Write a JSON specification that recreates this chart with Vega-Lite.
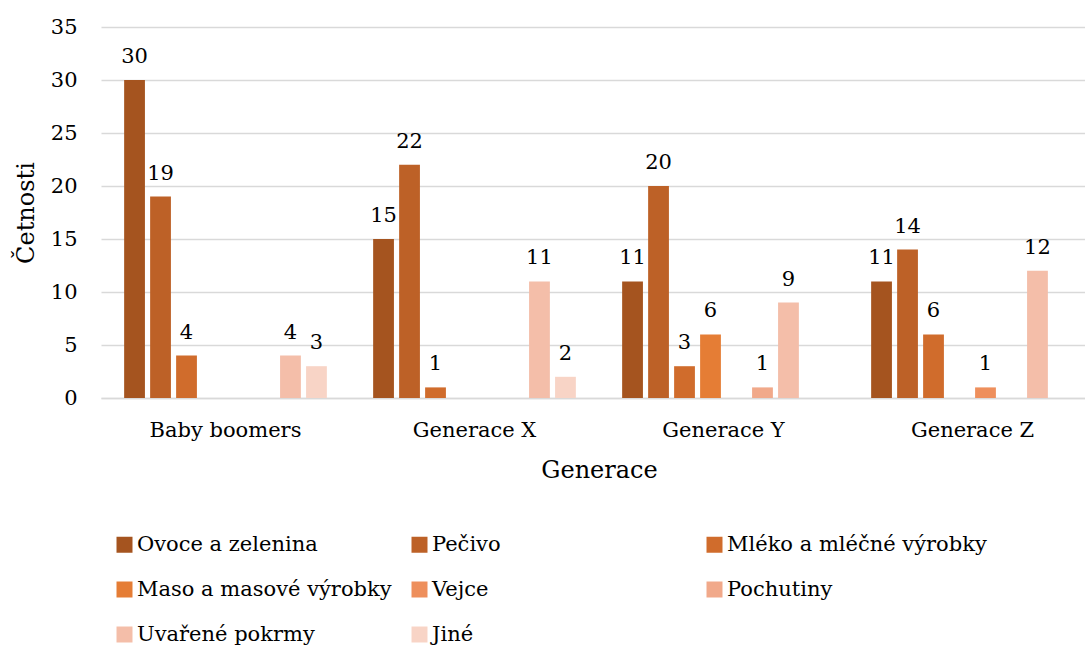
{
  "$schema": "https://vega.github.io/schema/vega-lite/v6.json",
  "width": 984,
  "height": 371,
  "autosize": {"type": "none"},
  "padding": {"left": 101, "top": 27, "right": 0, "bottom": 248},
  "background": "white",
  "config": {
    "font": "DejaVu Serif",
    "view": {"stroke": null}
  },
  "data": {"values": [
    {"gen": "Baby boomers", "cat": "Ovoce a zelenina", "value": 30},
    {"gen": "Baby boomers", "cat": "Pečivo", "value": 19},
    {"gen": "Baby boomers", "cat": "Mléko a mléčné výrobky", "value": 4},
    {"gen": "Baby boomers", "cat": "Uvařené pokrmy", "value": 4},
    {"gen": "Baby boomers", "cat": "Jiné", "value": 3},
    {"gen": "Generace X", "cat": "Ovoce a zelenina", "value": 15},
    {"gen": "Generace X", "cat": "Pečivo", "value": 22},
    {"gen": "Generace X", "cat": "Mléko a mléčné výrobky", "value": 1},
    {"gen": "Generace X", "cat": "Uvařené pokrmy", "value": 11},
    {"gen": "Generace X", "cat": "Jiné", "value": 2},
    {"gen": "Generace Y", "cat": "Ovoce a zelenina", "value": 11},
    {"gen": "Generace Y", "cat": "Pečivo", "value": 20},
    {"gen": "Generace Y", "cat": "Mléko a mléčné výrobky", "value": 3},
    {"gen": "Generace Y", "cat": "Maso a masové výrobky", "value": 6},
    {"gen": "Generace Y", "cat": "Pochutiny", "value": 1},
    {"gen": "Generace Y", "cat": "Uvařené pokrmy", "value": 9},
    {"gen": "Generace Z", "cat": "Ovoce a zelenina", "value": 11},
    {"gen": "Generace Z", "cat": "Pečivo", "value": 14},
    {"gen": "Generace Z", "cat": "Mléko a mléčné výrobky", "value": 6},
    {"gen": "Generace Z", "cat": "Vejce", "value": 1},
    {"gen": "Generace Z", "cat": "Uvařené pokrmy", "value": 12}
  ]},
  "encoding": {
    "x": {
      "field": "gen", "type": "nominal",
      "sort": ["Baby boomers", "Generace X", "Generace Y", "Generace Z"],
      "scale": {"range": [0, 996], "paddingInner": 0.165, "paddingOuter": 0.0825},
      "axis": {
        "labelAngle": 0, "labelFontSize": 21, "labelColor": "#000000", "labelPadding": 21,
        "ticks": false, "domainColor": "#D9D9D9", "domainWidth": 1.5,
        "title": "Generace", "titleFontSize": 24, "titleFontWeight": "normal", "titleColor": "#000000", "titlePadding": 18
      }
    },
    "xOffset": {
      "field": "cat", "type": "nominal",
      "scale": {"domain": ["Ovoce a zelenina", "Pečivo", "Mléko a mléčné výrobky", "Maso a masové výrobky", "Vejce", "Pochutiny", "Uvařené pokrmy", "Jiné"], "paddingInner": 0.2, "paddingOuter": 0.1}
    },
    "y": {
      "field": "value", "type": "quantitative",
      "scale": {"domain": [0, 35]},
      "axis": {
        "values": [0, 5, 10, 15, 20, 25, 30, 35],
        "labelFontSize": 21, "labelColor": "#000000", "labelPadding": 24,
        "ticks": false, "domain": false, "gridColor": "#D9D9D9", "gridWidth": 1.5,
        "title": "Četnosti", "titleFontSize": 24, "titleFontWeight": "normal", "titleColor": "#000000", "titlePadding": 12
      }
    }
  },
  "layer": [
    {
      "mark": {"type": "bar"},
      "encoding": {
        "color": {
          "field": "cat", "type": "nominal",
          "scale": {
            "domain": ["Ovoce a zelenina", "Pečivo", "Mléko a mléčné výrobky", "Maso a masové výrobky", "Vejce", "Pochutiny", "Uvařené pokrmy", "Jiné"],
            "range": ["#A5541F", "#BD6127", "#D06C2C", "#E57D35", "#EE8F5C", "#F1A98A", "#F4BEA9", "#F8D4C6"]
          },
          "legend": {
            "title": null, "orient": "none", "legendX": 13, "legendY": 507,
            "direction": "horizontal", "columns": 3, "gridAlign": "all",
            "symbolType": "square", "symbolSize": 256, "symbolStrokeWidth": 0,
            "labelFontSize": 21, "labelColor": "#000000", "labelOffset": 2, "labelLimit": 400,
            "rowPadding": 23, "columnPadding": 12
          }
        }
      }
    },
    {
      "mark": {"type": "text", "dy": -17, "baseline": "alphabetic", "fontSize": 21, "color": "#000000"},
      "encoding": {"text": {"field": "value", "type": "quantitative"}}
    }
  ]
}
